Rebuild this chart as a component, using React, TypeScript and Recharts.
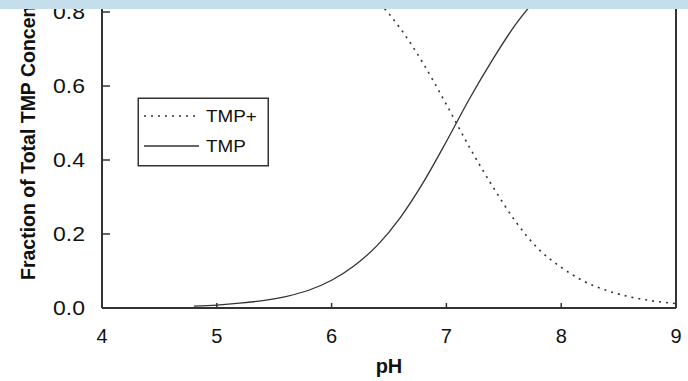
import React from 'react';
import { LineChart, Line, XAxis, YAxis, ReferenceLine, Legend } from 'recharts';

const phValues = [4.8, 5.0, 5.2, 5.4, 5.6, 5.8, 6.0, 6.2, 6.4, 6.6, 6.8, 7.0, 7.2, 7.4, 7.6, 7.8, 8.0, 8.2, 8.4, 8.6, 8.8, 9.0];
const tmpValues = [0.005, 0.008, 0.013, 0.02, 0.031, 0.048, 0.075, 0.115, 0.17, 0.245, 0.34, 0.45, 0.565, 0.67, 0.765, 0.84, 0.89, 0.928, 0.953, 0.97, 0.981, 0.988];
const tmpPlusValues = [0.995, 0.992, 0.987, 0.98, 0.969, 0.952, 0.925, 0.885, 0.83, 0.755, 0.66, 0.55, 0.435, 0.33, 0.235, 0.16, 0.11, 0.072, 0.047, 0.03, 0.019, 0.012];
const xTicks = [4, 5, 6, 7, 8, 9];
const yTicks = [0, 0.2, 0.4, 0.6, 0.8, 1.0];
const seriesNames = ['TMP+', 'TMP'];
const xTitle = 'pH';
const yTitle = 'Fraction of Total TMP Concentration';

const data = phValues.map((ph, i) => ({ ph, tmpPlus: tmpPlusValues[i], tmp: tmpValues[i] }));

const FONT = '"Liberation Sans", Arial, sans-serif';
const INK = '#111111';
const AXIS = '#333333';
const DOT_DASH = '2 5';

const YTick = (props: any) => {
  const { x, y, payload } = props;
  return (
    <g transform={`translate(${x},${y}) scale(1.15,1)`}>
      <text x={0} y={0} dy={7.2} textAnchor="end" fontFamily={FONT} fontSize={20} fill={INK}>
        {Number(payload.value).toFixed(1)}
      </text>
    </g>
  );
};

const XTick = (props: any) => {
  const { x, y, payload } = props;
  return (
    <text x={x} y={y} dy={14.3} textAnchor="middle" fontFamily={FONT} fontSize={20} fill={INK}>
      {payload.value}
    </text>
  );
};

const YTitle = (props: any) => {
  const vb = props.viewBox || { x: 0, y: 8, width: 102, height: 370 };
  const cx = vb.x + 35;
  const cy = vb.y + vb.height - 28;
  return (
    <text x={cx} y={cy} transform={`rotate(-90, ${cx}, ${cy})`} textAnchor="start" fontFamily={FONT} fontWeight="bold" fontSize={19.5} fill={INK}>
      {yTitle}
    </text>
  );
};

const XTitle = (props: any) => {
  const vb = props.viewBox || { x: 102, y: 378, width: 574, height: 73 };
  const cx = vb.x + vb.width / 2;
  const cy = vb.y + 65;
  return (
    <text x={cx} y={cy} textAnchor="middle" fontFamily={FONT} fontWeight="bold" fontSize={20} fill={INK}>
      {xTitle}
    </text>
  );
};

const LegendBox = (props: any) => {
  const payload = props.payload || [];
  const rows = seriesNames.map((name, i) => {
    const entry = payload.find((p: any) => p.value === name);
    return { name, dashed: entry ? !!(entry.payload && entry.payload.strokeDasharray) : i === 0 };
  });
  return (
    <svg width={133} height={71} style={{ display: 'block' }}>
      <rect x={1.25} y={1.25} width={130} height={67.5} fill="#fff" stroke={AXIS} strokeWidth={1.5} />
      {rows.map((r, i) => {
        const cy = 19 + i * 30;
        return (
          <g key={r.name}>
            <line x1={7} x2={62} y1={cy} y2={cy} stroke={AXIS} strokeWidth={r.dashed ? 1.6 : 1.3} strokeDasharray={r.dashed ? DOT_DASH : undefined} />
            <g transform={`translate(69,${cy}) scale(1.18,1)`}>
              <text x={0} y={0} dy={5.7} fontFamily={FONT} fontSize={16} fill={INK}>{r.name}</text>
            </g>
          </g>
        );
      })}
    </svg>
  );
};

export default function App() {
  return (
    <div style={{ position: 'fixed', left: 0, top: 0, width: 688, height: 381, overflow: 'hidden', background: '#ffffff' }}>
      <div style={{ position: 'absolute', left: 0, top: -70 }}>
        <LineChart width={688} height={451} data={data} margin={{ top: 8, right: 12, bottom: 0, left: 0 }}>
          <XAxis
            dataKey="ph"
            type="number"
            domain={[4, 9]}
            ticks={xTicks}
            interval={0}
            height={73}
            axisLine={{ stroke: AXIS, strokeWidth: 2 }}
            tickLine={{ stroke: AXIS, strokeWidth: 1.5 }}
            tickSize={-5}
            tickMargin={25.5}
            tick={<XTick />}
            label={<XTitle />}
          />
          <YAxis
            type="number"
            domain={[0, 1]}
            ticks={yTicks}
            interval={0}
            width={102}
            axisLine={{ stroke: AXIS, strokeWidth: 2 }}
            tickLine={{ stroke: AXIS, strokeWidth: 1.5 }}
            tickSize={-8}
            tickMargin={25}
            tick={<YTick />}
            label={<YTitle />}
          />
          <ReferenceLine x={9} stroke={AXIS} strokeWidth={2} />
          <Line
            type="monotone"
            dataKey="tmpPlus"
            name={seriesNames[0]}
            stroke={AXIS}
            strokeWidth={1.6}
            strokeDasharray={DOT_DASH}
            dot={false}
            isAnimationActive={false}
          />
          <Line
            type="monotone"
            dataKey="tmp"
            name={seriesNames[1]}
            stroke={AXIS}
            strokeWidth={1.3}
            dot={false}
            isAnimationActive={false}
          />
          <Legend
            layout="vertical"
            align="center"
            verticalAlign="middle"
            content={<LegendBox />}
            wrapperStyle={{ position: 'absolute', left: 137, top: 167, width: 133, height: 71, right: 'auto', bottom: 'auto' }}
          />
        </LineChart>
      </div>
      <div style={{ position: 'absolute', left: 0, top: 0, width: 688, height: 9, background: '#C5DEEB' }} />
    </div>
  );
}
